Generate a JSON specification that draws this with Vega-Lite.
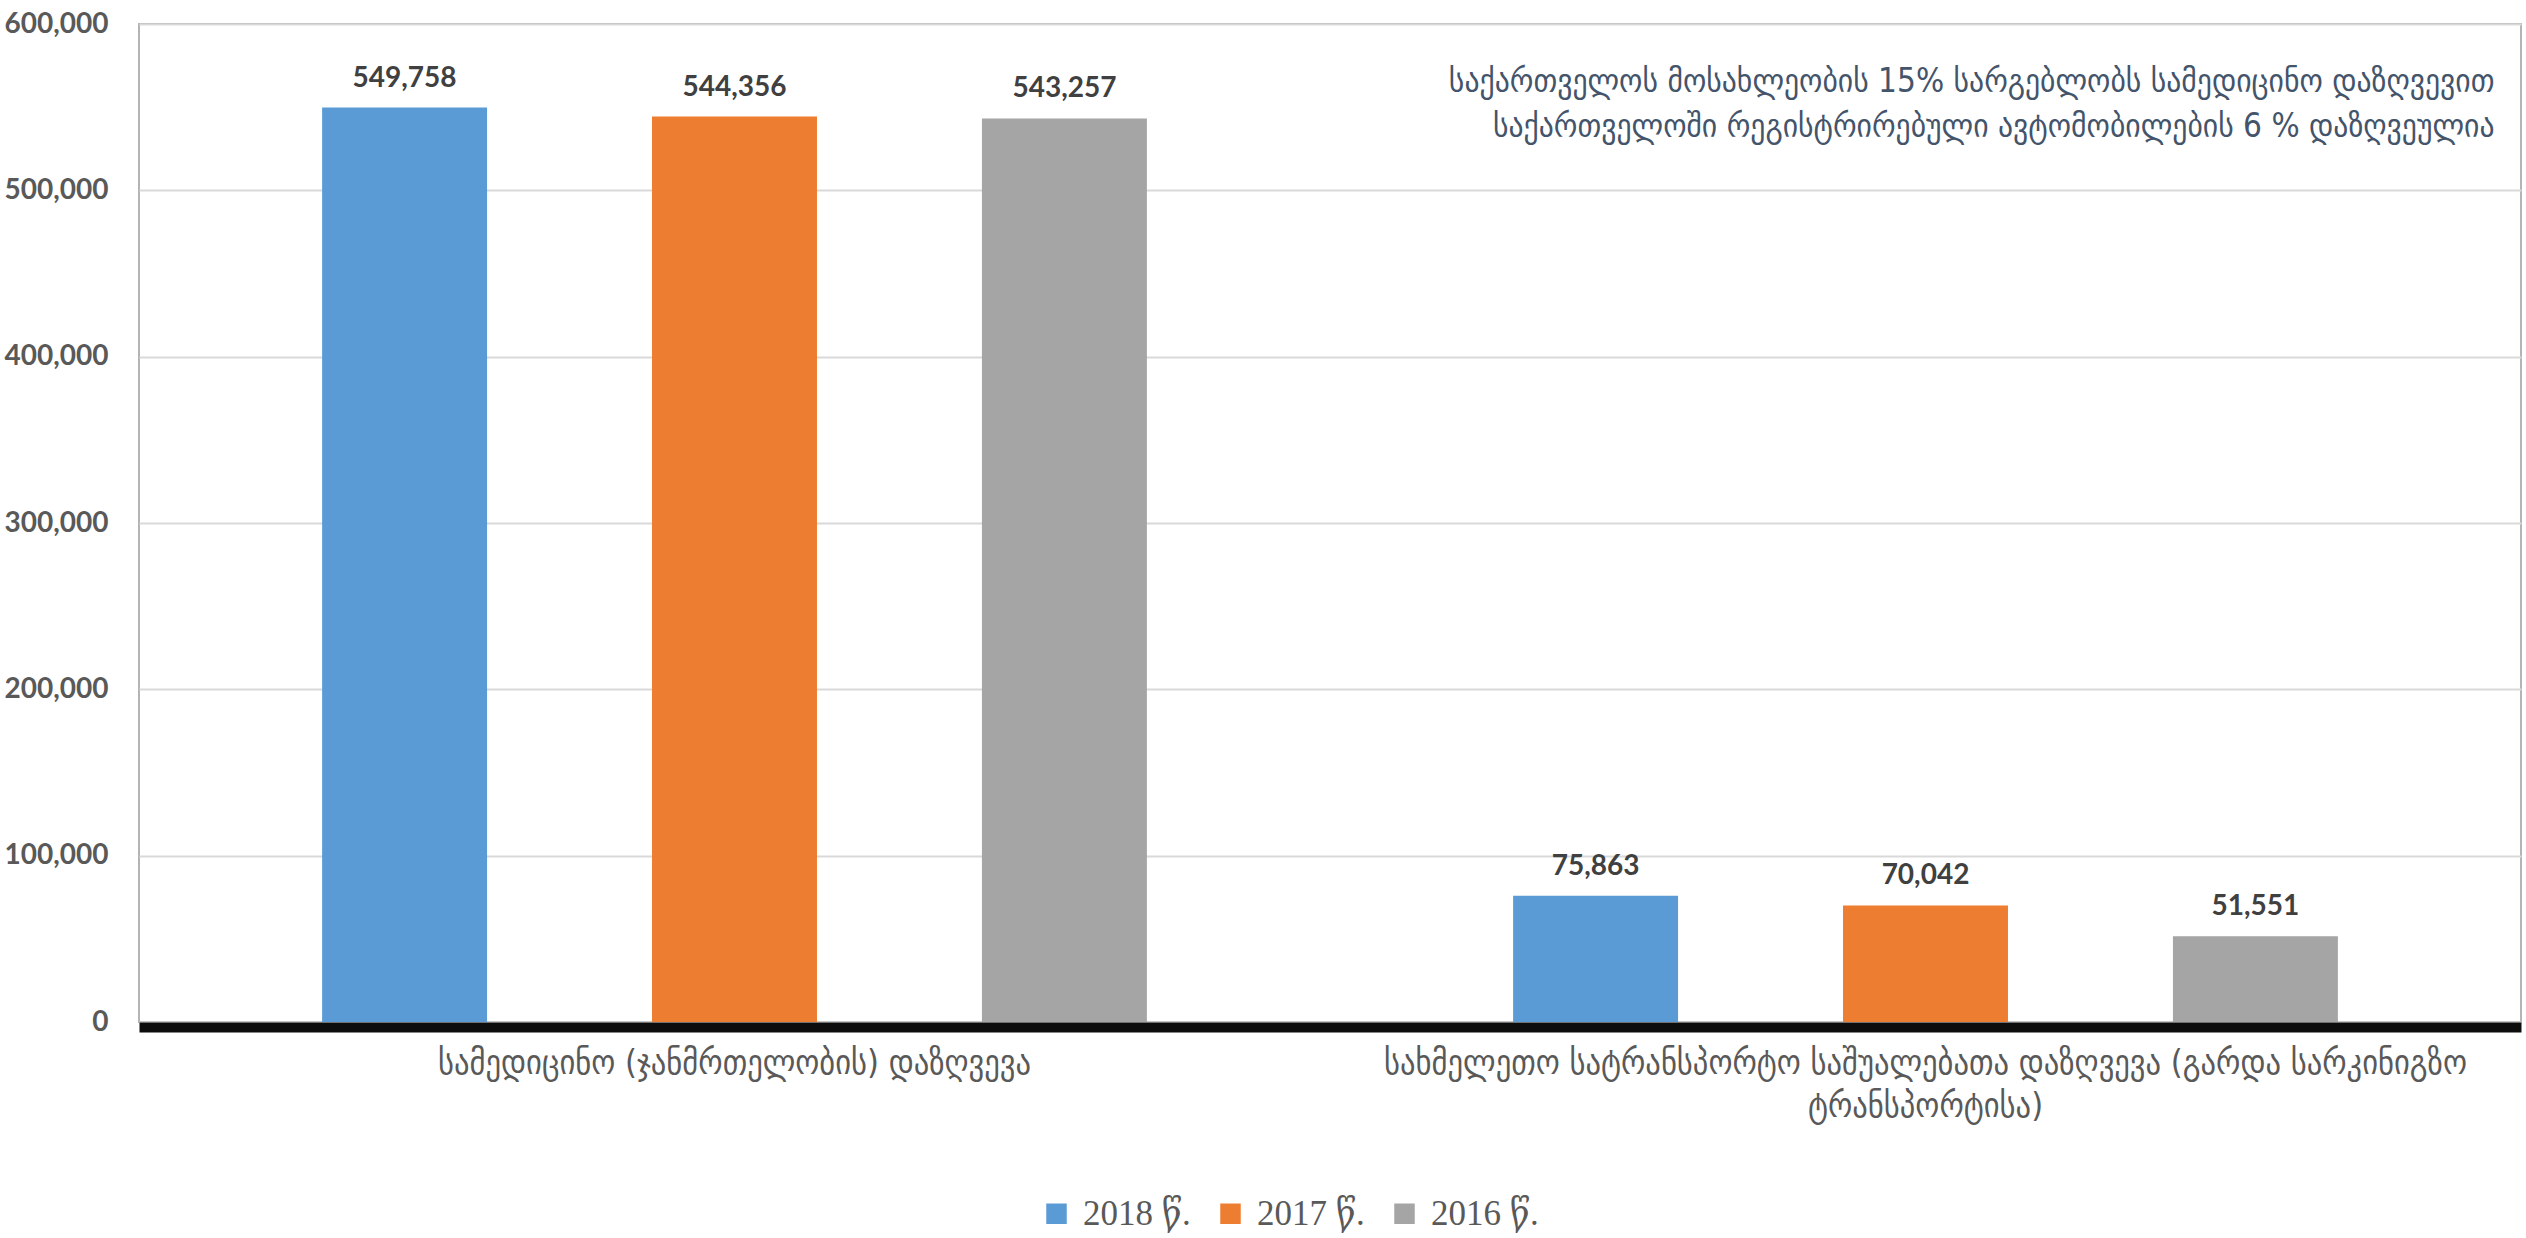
{
  "$schema": "https://vega.github.io/schema/vega-lite/v6.json",
  "width": 2382,
  "height": 998,
  "autosize": "none",
  "padding": {"left": 139, "top": 24, "right": 5, "bottom": 216},
  "background": "white",
  "config": {
    "view": {"stroke": "#b4b4b4", "strokeWidth": 2},
    "axis": {"ticks": false, "grid": false}
  },
  "datasets": {
    "insurance": [
      {"category": "სამედიცინო (ჯანმრთელობის) დაზღვევა", "year": "2018 წ.", "value": 549758},
      {"category": "სამედიცინო (ჯანმრთელობის) დაზღვევა", "year": "2017 წ.", "value": 544356},
      {"category": "სამედიცინო (ჯანმრთელობის) დაზღვევა", "year": "2016 წ.", "value": 543257},
      {"category": "სახმელეთო სატრანსპორტო საშუალებათა დაზღვევა (გარდა სარკინიგზო ტრანსპორტისა)", "year": "2018 წ.", "value": 75863},
      {"category": "სახმელეთო სატრანსპორტო საშუალებათა დაზღვევა (გარდა სარკინიგზო ტრანსპორტისა)", "year": "2017 წ.", "value": 70042},
      {"category": "სახმელეთო სატრანსპორტო საშუალებათა დაზღვევა (გარდა სარკინიგზო ტრანსპორტისა)", "year": "2016 წ.", "value": 51551}
    ],
    "notes": [
      {"category": "სახმელეთო სატრანსპორტო საშუალებათა დაზღვევა (გარდა სარკინიგზო ტრანსპორტისა)", "value": 565000, "note": "საქართველოს მოსახლეობის 15% სარგებლობს სამედიცინო დაზღვევით"},
      {"category": "სახმელეთო სატრანსპორტო საშუალებათა დაზღვევა (გარდა სარკინიგზო ტრანსპორტისა)", "value": 538000, "note": "საქართველოში რეგისტრირებული ავტომობილების  6 % დაზღვეულია"}
    ]
  },
  "encoding": {
    "x": {
      "field": "category",
      "type": "nominal",
      "sort": null,
      "title": null,
      "scale": {
        "domain": [
          "სამედიცინო (ჯანმრთელობის) დაზღვევა",
          "სახმელეთო სატრანსპორტო საშუალებათა დაზღვევა (გარდა სარკინიგზო ტრანსპორტისა)"
        ],
        "paddingInner": 0,
        "paddingOuter": 0
      },
      "axis": {
        "labelAngle": 0,
        "labelLimit": 3000,
        "labelOverlap": false,
        "labelFont": "DejaVu Sans Condensed",
        "labelFontSize": 34,
        "labelColor": "#595959",
        "labelPadding": 19,
        "labelLineHeight": 43,
        "labelBaseline": "top",
        "domainColor": "#0d0d0d",
        "domainWidth": 10,
        "offset": 5,
        "labelExpr": "datum.value == 'სახმელეთო სატრანსპორტო საშუალებათა დაზღვევა (გარდა სარკინიგზო ტრანსპორტისა)' ? ['სახმელეთო სატრანსპორტო საშუალებათა დაზღვევა (გარდა სარკინიგზო', 'ტრანსპორტისა)'] : datum.value"
      }
    },
    "y": {
      "field": "value",
      "type": "quantitative",
      "title": null,
      "scale": {"domain": [0, 600000], "nice": false},
      "axis": {
        "values": [0, 100000, 200000, 300000, 400000, 500000, 600000],
        "format": ",.0f",
        "grid": true,
        "gridColor": "#d9d9d9",
        "gridWidth": 2,
        "domain": false,
        "labelFont": "Lato",
        "labelFontWeight": "bold",
        "labelFontSize": 28,
        "labelColor": "#595959",
        "labelPadding": 31
      }
    }
  },
  "layer": [
    {
      "data": {"name": "insurance"},
      "mark": {"type": "bar"},
      "encoding": {
        "xOffset": {
          "field": "year",
          "type": "nominal",
          "sort": ["2018 წ.", "2017 წ.", "2016 წ."],
          "scale": {"paddingInner": 0.5, "paddingOuter": 0.555}
        },
        "color": {
          "field": "year",
          "type": "nominal",
          "title": null,
          "scale": {
            "domain": ["2018 წ.", "2017 წ.", "2016 წ."],
            "range": ["#5B9BD5", "#ED7D31", "#A5A5A5"]
          },
          "legend": {
            "orient": "none",
            "legendX": 900,
            "legendY": 1172,
            "direction": "horizontal",
            "symbolType": "square",
            "symbolSize": 420,
            "symbolStrokeWidth": 0,
            "labelFont": "Liberation Serif, DejaVu Serif",
            "labelFontSize": 35,
            "labelColor": "#595959",
            "labelOffset": 9,
            "columnPadding": 22
          }
        }
      }
    },
    {
      "data": {"name": "insurance"},
      "mark": {
        "type": "text",
        "baseline": "alphabetic",
        "dy": -21,
        "font": "Lato",
        "fontWeight": "bold",
        "fontSize": 28,
        "color": "#404040"
      },
      "encoding": {
        "xOffset": {
          "field": "year",
          "type": "nominal",
          "sort": ["2018 წ.", "2017 წ.", "2016 წ."],
          "scale": {"paddingInner": 0.5, "paddingOuter": 0.555}
        },
        "text": {"field": "value", "type": "quantitative", "format": ","}
      }
    },
    {
      "data": {"name": "notes"},
      "mark": {
        "type": "text",
        "align": "right",
        "baseline": "middle",
        "dx": 569,
        "font": "DejaVu Sans Condensed",
        "fontSize": 33,
        "color": "#44546A"
      },
      "encoding": {
        "text": {"field": "note", "type": "nominal"}
      }
    }
  ]
}
